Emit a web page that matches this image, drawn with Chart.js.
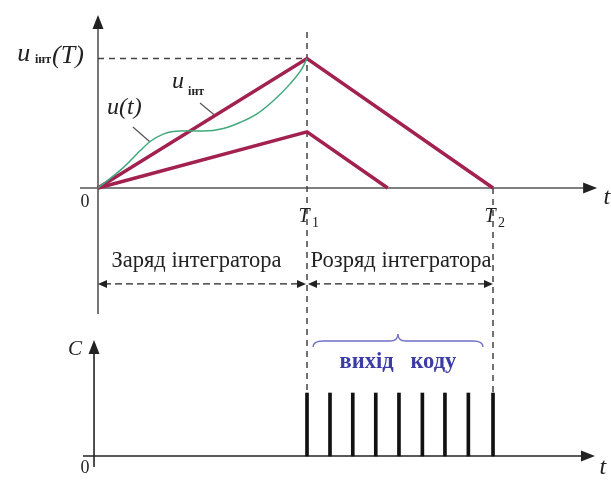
<!DOCTYPE html>
<html>
<head>
<meta charset="utf-8">
<script src="https://cdn.jsdelivr.net/npm/chart.js@4"></script>
<style>
  html, body { margin: 0; padding: 0; background: #fff; }
  canvas { display: block; }
</style>
</head>
<body>
<canvas id="myChart" width="611" height="486"></canvas>
<script>
// time is measured in units of T1
const TICK_TIMES = [1, 1.89];
const TICK_NAMES = ['T', 'T'];
const TICK_SUBS = ['1', '2'];

// integrator output, high and low input
const HIGH_T = [0, 1, 1.89];
const HIGH_U = [0, 1, 0];
const LOW_T = [0, 1, 1.386];
const LOW_U = [0, 0.434, 0];

// input signal u(t)
const INPUT_T = [0, 0.121, 0.201, 0.249, 0.312, 0.36, 0.44, 0.504, 0.6, 0.679, 0.759, 0.839, 0.919, 0.975, 1];
const INPUT_U = [0, 0.157, 0.287, 0.359, 0.416, 0.436, 0.442, 0.44, 0.46, 0.506, 0.571, 0.674, 0.804, 0.92, 1];

// counter pulses C during discharge
const PULSE_T = [1, 1.11, 1.219, 1.329, 1.44, 1.552, 1.66, 1.772, 1.89];
const PULSE_C = [1, 1, 1, 1, 1, 1, 1, 1, 1];

const LABEL_CHARGE = 'Заряд інтегратора';
const LABEL_DISCHARGE = 'Розряд інтегратора';
const LABEL_CODE = 'вихід   коду';

const RED = '#a2214f';
const GREEN = '#3fa97c';
const SERIF = '"Liberation Serif", "DejaVu Serif", serif';

function toPoints(xs, ys) {
  return xs.map((x, i) => ({ x: x, y: ys[i] }));
}

function arrowHead(ctx, x, y, angle, len, half) {
  ctx.save();
  ctx.translate(x, y);
  ctx.rotate(angle);
  ctx.beginPath();
  ctx.moveTo(0, 0);
  ctx.lineTo(-len, -half);
  ctx.lineTo(-len, half);
  ctx.closePath();
  ctx.fill();
  ctx.restore();
}

function line(ctx, x0, y0, x1, y1) {
  ctx.beginPath();
  ctx.moveTo(x0, y0);
  ctx.lineTo(x1, y1);
  ctx.stroke();
}

function text(ctx, str, x, y, font, align, color) {
  ctx.font = font;
  ctx.textAlign = align || 'left';
  ctx.textBaseline = 'middle';
  ctx.fillStyle = color || '#222';
  ctx.fillText(str, x, y);
}

// axes, dashed guides and all the text
const DIAGRAM = {
  id: 'diagram',
  beforeDatasetsDraw(chart) {
    const { ctx } = chart;
    const X = v => chart.scales.x.getPixelForValue(v);
    const U = v => chart.scales.y.getPixelForValue(v);
    const C = v => chart.scales.yC.getPixelForValue(v);
    ctx.save();

    // top axes
    ctx.strokeStyle = '#555';
    ctx.fillStyle = '#222';
    ctx.lineWidth = 1.6;
    line(ctx, X(-0.086), U(0), X(2.37), U(0));
    arrowHead(ctx, X(2.388), U(0), 0, 14, 5.5);
    line(ctx, X(0), U(-0.973), X(0), U(1.3));
    arrowHead(ctx, X(0), U(1.336), -Math.PI / 2, 14, 5.5);

    // bottom axes
    ctx.strokeStyle = '#222';
    line(ctx, X(-0.072), C(0), X(2.36), C(0));
    arrowHead(ctx, X(2.378), C(0), 0, 14, 5.5);
    line(ctx, X(-0.019), C(-0.175), X(-0.019), C(1.7));
    arrowHead(ctx, X(-0.019), C(1.841), -Math.PI / 2, 14, 5.5);

    // dashed guides
    ctx.setLineDash([6, 5]);
    ctx.strokeStyle = '#444';
    ctx.lineWidth = 1.5;
    line(ctx, X(0), U(1), X(TICK_TIMES[0]), U(1));
    line(ctx, X(TICK_TIMES[0]), U(1.205), X(TICK_TIMES[0]), C(1));
    line(ctx, X(TICK_TIMES[1]), U(0), X(TICK_TIMES[1]), C(1));

    // charge / discharge arrows
    ctx.strokeStyle = '#222';
    ctx.lineWidth = 1.3;
    ctx.setLineDash([7, 4]);
    const ay = U(-0.741);
    line(ctx, X(0) + 6, ay, X(TICK_TIMES[0]) - 6, ay);
    line(ctx, X(TICK_TIMES[0]) + 6, ay, X(TICK_TIMES[1]) - 6, ay);
    ctx.setLineDash([]);
    arrowHead(ctx, X(0), ay, Math.PI, 9, 4);
    arrowHead(ctx, X(TICK_TIMES[0]) - 1, ay, 0, 9, 4);
    arrowHead(ctx, X(TICK_TIMES[0]) + 1, ay, Math.PI, 9, 4);
    arrowHead(ctx, X(TICK_TIMES[1]), ay, 0, 9, 4);

    // leader lines
    ctx.strokeStyle = '#555';
    ctx.lineWidth = 1.2;
    line(ctx, X(0.167), U(0.471), X(0.249), U(0.355));
    line(ctx, X(0.488), U(0.656), X(0.56), U(0.56));

    // brace over the code pulses
    ctx.strokeStyle = '#6f6fc4';
    ctx.lineWidth = 1.4;
    const bx0 = X(1.029), bx1 = X(1.842), bxm = X(1.435), by = C(1.825);
    ctx.beginPath();
    ctx.moveTo(bx0, by + 6);
    ctx.quadraticCurveTo(bx0, by, bx0 + 10, by);
    ctx.lineTo(bxm - 8, by);
    ctx.quadraticCurveTo(bxm, by, bxm, by - 7);
    ctx.quadraticCurveTo(bxm, by, bxm + 8, by);
    ctx.lineTo(bx1 - 10, by);
    ctx.quadraticCurveTo(bx1, by, bx1, by + 6);
    ctx.stroke();

    // text
    const it = size => 'italic ' + size + 'px ' + SERIF;
    const up = size => size + 'px ' + SERIF;
    text(ctx, 'u', X(-0.386), U(1.03), it(26));
    text(ctx, 'інт', X(-0.302), U(0.99), 'bold 12px ' + SERIF);
    text(ctx, '(T)', X(-0.22), U(1.02), it(26));
    text(ctx, '0', X(-0.062), U(-0.108), up(18), 'center');
    text(ctx, 't', X(2.435), U(-0.077), it(24), 'center');
    TICK_TIMES.forEach((t, i) => {
      text(ctx, TICK_NAMES[i], X(t) - 3, U(-0.224), it(20), 'center');
      text(ctx, TICK_SUBS[i], X(t) + 5, U(-0.27), up(14));
    });
    text(ctx, 'u(t)', X(0.043), U(0.618), it(24));
    text(ctx, 'u', X(0.354), U(0.819), it(24));
    text(ctx, 'інт', X(0.431), U(0.741), 'bold 12px ' + SERIF);
    text(ctx, LABEL_CHARGE, X(0.471), U(-0.564), up(22.5), 'center');
    text(ctx, LABEL_DISCHARGE, (X(TICK_TIMES[0]) + X(TICK_TIMES[1])) / 2 + 1, U(-0.564), up(22.5), 'center');
    text(ctx, 'C', X(-0.11), C(1.698), it(21), 'center');
    text(ctx, '0', X(-0.062), C(-0.19), up(18), 'center');
    text(ctx, 't', X(2.416), C(-0.19), it(24), 'center');
    text(ctx, LABEL_CODE, X(1.435), C(1.492), 'bold 22.5px ' + SERIF, 'center', '#3c3ca6');
    ctx.restore();
  }
};

const CONFIG = {
  type: 'line',
  data: {
    datasets: [
      {
        label: 'u(t)',
        data: toPoints(INPUT_T, INPUT_U),
        borderColor: GREEN,
        borderWidth: 1.5,
        cubicInterpolationMode: 'monotone',
        pointRadius: 0,
        yAxisID: 'y'
      },
      {
        label: 'u_int high',
        data: toPoints(HIGH_T, HIGH_U),
        borderColor: RED,
        borderWidth: 3.5,
        pointRadius: 0,
        yAxisID: 'y'
      },
      {
        label: 'u_int low',
        data: toPoints(LOW_T, LOW_U),
        borderColor: RED,
        borderWidth: 3.5,
        pointRadius: 0,
        yAxisID: 'y'
      },
      {
        type: 'bar',
        label: 'C',
        data: toPoints(PULSE_T, PULSE_C),
        backgroundColor: '#111',
        barThickness: 3,
        yAxisID: 'yC'
      }
    ]
  },
  options: {
    responsive: false,
    animation: false,
    layout: { padding: 0, autoPadding: false },
    plugins: {
      legend: { display: false },
      tooltip: { enabled: false }
    },
    scales: {
      x: { type: 'linear', display: false, offset: false, min: -0.4689, max: 2.4545 },
      y: { type: 'linear', display: false, min: -2.3012, max: 1.4517 },
      yC: { type: 'linear', display: false, min: -0.476, max: 7.238 }
    }
  },
  plugins: [DIAGRAM]
};

const MY_CHART = new Chart(document.getElementById('myChart'), CONFIG);
</script>
</body>
</html>
